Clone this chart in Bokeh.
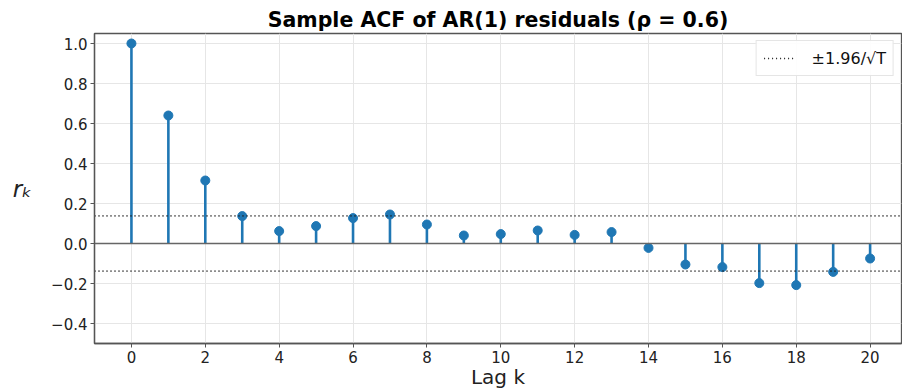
from bokeh.plotting import figure
from bokeh.models import Range1d, FixedTicker, CustomJSTickFormatter, Span, Legend, LegendItem
from bokeh.embed import file_html
from bokeh.resources import INLINE

lags = list(range(21))
acf = [1.0, 0.64, 0.315, 0.137, 0.062, 0.087, 0.127, 0.145, 0.095, 0.04, 0.047,
       0.065, 0.043, 0.057, -0.022, -0.105, -0.118, -0.198, -0.208, -0.142, -0.075]
band = 0.1386
x_ticks = list(range(0, 21, 2))
y_ticks = [-0.4, -0.2, 0.0, 0.2, 0.4, 0.6, 0.8, 1.0]

FONT = "DejaVu Sans"
BLUE = "#1f77b4"

p = figure(width=902, height=392, output_backend="svg", toolbar_location=None,
           x_range=Range1d(-1, 20.85), y_range=Range1d(-0.5, 1.05),
           min_border_left=94, min_border_right=1, min_border_top=33, min_border_bottom=49)

p.title.text = "Sample ACF of AR(1) residuals (ρ = 0.6)"
p.title.align = "center"
p.title.text_font = FONT
p.title.text_font_size = "20.5px"
p.title.text_font_style = "bold"
p.title.text_color = "black"
p.title.standoff = 4

# stems
p.segment(x0=lags, y0=[0] * len(lags), x1=lags, y1=acf, line_color=BLUE, line_width=2.6)
p.scatter(x=lags, y=acf, size=9, fill_color=BLUE, line_color=BLUE)
# baseline
p.add_layout(Span(location=0, dimension="width", line_color="#666666", line_width=1.6))

# bands
xs = [-1, 20.85]
r1 = p.line(xs, [band, band], line_color="#1a1a1a", line_dash="1 3", line_width=1.7)
r2 = p.line(xs, [-band, -band], line_color="#1a1a1a", line_dash="1 3", line_width=1.7)

legend = Legend(items=[LegendItem(label="±1.96/√T", renderers=[r1])], location="top_right")
legend.label_text_font = FONT
legend.label_text_font_size = "16px"
legend.label_text_color = "#111111"
legend.border_line_color = "#cccccc"
legend.border_line_width = 1
legend.background_fill_alpha = 0.9
legend.glyph_width = 32
legend.label_standoff = 16
legend.margin = 7
legend.padding = 7
legend.spacing = 0
p.add_layout(legend)

fmt = CustomJSTickFormatter(code="""
    let s = Math.abs(tick) < 1e-9 ? '0.0' : tick.toFixed(1);
    return s.replace('-', '\\u2212');
""")
p.yaxis.ticker = FixedTicker(ticks=y_ticks)
p.yaxis.formatter = fmt
p.xaxis.ticker = FixedTicker(ticks=x_ticks)

for ax in [p.xaxis[0], p.yaxis[0]]:
    ax.major_label_text_font = FONT
    ax.major_label_text_font_size = "15px"
    ax.major_label_text_color = "#222222"
    ax.major_label_standoff = 3
    ax.axis_line_color = "#555555"
    ax.axis_line_width = 1.3
    ax.major_tick_line_color = "#555555"
    ax.major_tick_out = 4
    ax.major_tick_in = 0
    ax.minor_tick_line_color = None
    ax.axis_label_text_font = FONT
    ax.axis_label_text_font_size = "20px"
    ax.axis_label_text_font_style = "normal"
    ax.axis_label_text_color = "#222222"

p.xaxis.axis_label = "Lag k"
p.xaxis.axis_label_standoff = -1
p.yaxis.axis_label = "rₖ"
p.yaxis.axis_label_orientation = "horizontal"
p.yaxis.axis_label_standoff = 16
p.yaxis.axis_label_text_font_size = "23px"
p.yaxis.axis_label_text_font_style = "italic"

p.xgrid.grid_line_color = "#e6e6e6"
p.ygrid.grid_line_color = "#e6e6e6"
p.xgrid.ticker = FixedTicker(ticks=x_ticks)
p.ygrid.ticker = FixedTicker(ticks=y_ticks)

p.outline_line_color = "#555555"
p.outline_line_width = 1.3
p.background_fill_color = "white"
p.border_fill_color = "white"

open("out.html", "w").write(file_html(p, INLINE))
